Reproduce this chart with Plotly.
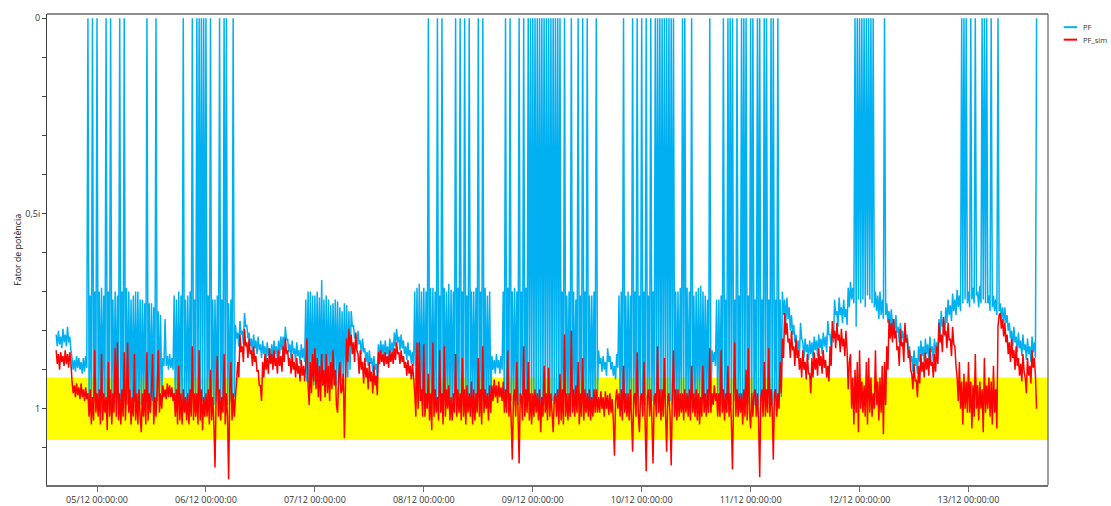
import pandas as pd
import plotly.graph_objects as go

# Quarter-hourly samples starting 04/12 15:00.
# Values are hundredths on the power-factor scale (0 at the top, 1 = 100).
START = "2023-12-04 15:00"
STEP = "15min"

# ---- measured power factor (PF), one list per day ----
pf_04 = [81, 84, 80, 83.5, 81.5, 84.5, 79.5, 83,
         81, 84, 79, 83, 81.5, 85, 87, 90,
         87.5, 90.5, 86.5, 89.5, 87, 90, 88, 91,
         87, 90.5, 86.5, 89.5, 0, 98, 71, 99,
         0, 98, 70, 99]
pf_05 = [0, 98, 70, 99, 69, 98, 71, 99,
         0, 98, 70, 99, 0, 98, 72, 99,
         70, 98, 71, 99, 0, 98, 70, 99,
         0, 98, 69, 99, 70, 98, 72, 99,
         71, 98, 70, 99, 70, 98, 72, 99,
         72, 98, 73, 99, 0, 98, 73, 99,
         73, 98, 74, 99, 0, 98, 75, 97,
         76, 96, 87, 89, 77, 89, 86.5, 90,
         86, 89.5, 87, 90, 71, 98, 72, 99,
         70, 98, 71, 99, 0, 98, 72, 99,
         71, 98, 70, 99, 0, 98, 72, 99,
         0, 98, 0, 99, 0, 98, 0, 99]
pf_06 = [0, 98, 71, 99, 0, 98, 72, 99,
         72, 98, 71, 99, 0, 98, 72, 99,
         0, 98, 0, 99, 73, 98, 72, 99,
         0, 97, 78.5, 82, 80.5, 84, 77.5, 81,
         80, 83.5, 75.5, 79, 78.5, 82, 80.5, 84,
         82, 85.5, 81, 84.5, 82.5, 86, 81.5, 85,
         83.5, 87, 82.5, 86, 84, 87.5, 83, 86.5,
         84.5, 88, 83.5, 87, 82.5, 86, 84, 87.5,
         82.5, 86, 81.5, 85, 81.5, 85, 79, 82.5,
         82, 85.5, 83.5, 87, 82.5, 86, 84.5, 88,
         83, 86.5, 85, 88.5, 83.5, 87, 84.5, 88,
         72, 93, 70, 94, 70, 93, 71, 94]
pf_07 = [71, 93, 70, 92, 71.5, 93, 67, 94,
         72, 94, 71, 93, 72, 93, 73.5, 92,
         73, 92, 72, 94, 72.5, 94, 74, 93,
         75, 93, 73, 92, 73.5, 92, 75, 90,
         75, 79, 78.5, 82, 81, 84.5, 80, 83.5,
         82.5, 86, 82, 85.5, 84.5, 88, 85.5, 89,
         85, 88.5, 87, 90.5, 86.5, 90, 88.5, 92,
         83.5, 87, 82.5, 86, 83.5, 87, 82.5, 86,
         84, 87.5, 82, 85.5, 83, 86.5, 80.5, 84,
         79.5, 83, 81.5, 85, 81, 84.5, 82.5, 86,
         84, 87.5, 83, 86.5, 85, 88.5, 85.5, 89,
         70, 97, 69, 98, 68, 98, 70, 99]
pf_08 = [69, 98, 70, 99, 0, 98, 69, 99,
         69, 98, 70, 99, 0, 98, 71, 99,
         0, 98, 69, 99, 70, 98, 68, 99,
         69.5, 98, 70, 99, 0, 98, 69, 99,
         0, 98, 70, 99, 0, 98, 71, 99,
         0, 98, 70, 99, 70, 98, 69, 99,
         0, 98, 70, 99, 0, 98, 69, 99,
         71, 98, 70, 98, 86.5, 90, 87.5, 91,
         86, 89.5, 87.5, 91, 86.5, 90, 70, 98,
         0, 98, 69, 99, 0, 98, 70, 99,
         69, 98, 70, 99, 0, 98, 70, 99,
         0, 98, 69, 99, 0, 98, 0, 99]
pf_09 = [0, 98, 0, 99, 0, 98, 0, 99,
         0, 98, 0, 99, 0, 98, 0, 99,
         0, 98, 0, 99, 0, 98, 0, 99,
         0, 98, 70, 99, 0, 98, 71, 99,
         70, 98, 0, 99, 70, 98, 72, 99,
         0, 98, 71, 99, 0, 98, 70, 99,
         0, 98, 71, 99, 71, 98, 70, 98,
         0, 97, 85, 88.5, 87, 90.5, 86.5, 90,
         88, 91.5, 84.5, 88, 86.5, 90, 88, 91.5,
         89, 92.5, 86, 89.5, 71, 98, 70, 99,
         0, 98, 71, 99, 70, 98, 71, 99,
         0, 98, 70, 99, 0, 98, 71, 99]
pf_10 = [0, 98, 70, 99, 0, 98, 71, 99,
         0, 98, 70, 99, 0, 98, 0, 99,
         0, 98, 0, 99, 0, 98, 0, 99,
         0, 98, 0, 99, 0, 98, 70, 99,
         70, 98, 69, 99, 0, 98, 0, 99,
         69, 98, 70, 99, 0, 98, 71, 99,
         70, 98, 69, 99, 68.5, 98, 70, 99,
         71, 98, 72, 99, 0, 98, 85, 88,
         85.5, 89, 72, 98, 72, 98, 71, 99,
         0, 98, 72, 99, 0, 98, 0, 99,
         0, 98, 72, 99, 0, 98, 71, 99,
         0, 98, 0, 99, 0, 98, 71, 99]
pf_11 = [0, 98, 0, 99, 72, 98, 0, 99,
         0, 98, 72, 99, 0, 98, 0, 99,
         72, 98, 0, 99, 0, 98, 72, 99,
         0, 98, 72, 97, 70, 76, 72, 78,
         71.5, 77, 74, 80, 76, 81, 78.5, 83,
         81, 85, 82.5, 86.5, 78, 82, 83, 87,
         82, 85.5, 83.5, 87.5, 82.5, 86, 83, 87,
         81.5, 85, 82.5, 86.5, 81, 84.5, 82, 86,
         80.5, 84, 81.5, 85.5, 77.5, 81, 81, 84.5,
         79.5, 83, 72, 76, 75, 79, 71.5, 76,
         74, 78, 72, 76.5, 74.5, 78.5, 69, 74,
         67.5, 72, 69, 73, 0, 79, 0, 72]
pf_12 = [0, 73, 0, 72, 0, 74, 0, 71,
         0, 72, 0, 73, 0, 74, 70, 75,
         71, 77, 70, 76, 72, 77, 0, 76,
         73, 78, 75, 79, 74.5, 79, 77, 81,
         76, 80.5, 79, 83, 78, 82, 80, 84,
         79, 83, 81, 85, 84, 88, 86.5, 90.5,
         85, 89, 87, 91, 84, 88, 82.5, 86.5,
         84, 88, 82, 86, 83.5, 87.5, 81.5, 85.5,
         84, 88, 82, 86, 83, 87, 77, 81,
         75, 79, 77.5, 81.5, 74, 78, 72, 76,
         73.5, 77.5, 70.5, 75, 72, 76, 69.5, 74,
         71, 75, 0, 73, 0, 72, 0, 73]
pf_13 = [70, 74, 0, 72, 69, 73, 0, 71,
         70, 74, 68.5, 73, 0, 72, 0, 73,
         0, 73, 71, 75, 0, 74, 71, 75,
         72, 76, 0, 75, 73, 77, 74, 78,
         74, 78, 76, 80, 78, 82, 80, 84,
         79, 83, 81.5, 85.5, 80.5, 84.5, 82.5, 86.5,
         81, 85, 83.5, 87.5, 82, 86, 84, 88,
         81.5, 85.5, 83, 87, 0]

# ---- simulated power factor (PF_sim), one list per day ----
sim_04 = [85, 88.5, 86, 90, 85.5, 88, 86.5, 89,
          85, 88.5, 86, 89.5, 85.5, 88, 93, 96,
          94, 97, 93.5, 96.5, 94.5, 97.5, 93.5, 97,
          95, 98, 94.5, 97.5, 96, 102, 95, 104,
          97, 103, 85, 101]
sim_05 = [96, 102, 95, 104, 86, 103, 96, 101,
          97, 105.5, 88, 102, 95, 104, 96, 101,
          84.5, 102, 83, 103, 96, 104, 95, 102,
          85.5, 103, 96, 83, 101, 95, 104, 97,
          102, 86, 103, 96, 104, 95, 102, 106,
          96, 102, 95, 104, 85.5, 103, 96, 101,
          95, 86, 104, 97, 102, 95, 85, 101,
          96, 100, 94, 97, 95, 97.5, 93.5, 97,
          94, 97, 94.5, 98, 96, 102, 95, 104,
          89, 103, 96, 104, 95, 101, 97, 103,
          96, 104, 95, 102, 84, 103, 96, 102,
          96, 104, 85, 103, 95, 105.5, 97, 102]
sim_06 = [96, 102, 95, 104, 90, 103, 97, 104,
          115, 96, 86.5, 102, 95, 103, 97, 101,
          86, 104, 96, 102, 118, 95, 88, 103,
          96, 102, 97, 93, 88, 92, 81, 85.5,
          84, 88, 79.5, 84, 83, 87, 82, 86,
          85, 89, 84, 88, 86.5, 90.5, 90, 94,
          94, 98, 88, 92, 86, 90, 87, 91,
          84.5, 88.5, 86, 90, 85, 89, 87, 91,
          85, 89, 86.5, 90.5, 84, 88, 82, 86,
          85, 89, 87, 91, 86, 90, 88, 92,
          87, 91, 89, 93, 87.5, 91.5, 89, 93,
          88, 82, 94, 99, 88, 96, 86, 93]
sim_07 = [84.5, 95, 87, 97, 89, 98, 86, 94,
          90, 97, 86, 96, 89, 98, 88, 95,
          85, 94, 90, 99, 101, 92, 88, 96,
          95, 91, 107.5, 93, 82, 88, 79.5, 84,
          81, 86, 83, 88, 80.5, 85, 86, 91,
          85, 90, 88, 93.5, 87, 92, 89.5, 95,
          88, 93, 90.5, 96, 89, 94, 91.5, 96.5,
          85.5, 88.5, 85, 88, 86, 89, 85.5, 88.5,
          86.5, 89.5, 85, 88, 85.5, 88.5, 84.5, 87.5,
          83, 86, 85.5, 88.5, 85, 88, 86.5, 89.5,
          88, 91.5, 87.5, 91, 89, 92.5, 88.5, 92,
          96, 102, 83, 100, 83, 98, 95, 102]
sim_08 = [83.5, 102, 96, 100, 91, 103, 96, 105.5,
          83, 102, 95, 101, 97, 103, 85, 101,
          96, 104, 84, 102, 95, 100, 94, 103,
          97, 103, 96, 101, 86, 102, 95, 101,
          96, 103, 87, 102, 95, 104, 94, 101,
          96, 102, 93, 104, 95, 103, 96, 101,
          87, 102, 95, 104, 84, 101, 95, 100,
          96, 103, 94, 101, 94, 98, 92.5, 97,
          94, 98.5, 93, 97, 94.5, 98, 93, 101,
          95, 101, 85, 102, 96, 103, 113, 97,
          95, 102, 88, 101, 114, 96, 97, 103,
          84, 102, 95, 101, 88, 103, 96, 104]
sim_09 = [96, 102, 95, 101, 96, 103, 95, 106,
          97, 102, 89, 101, 96, 103, 89.5, 102,
          96, 101, 106, 97, 96, 102, 95, 104,
          91, 103, 95, 104, 81, 102, 96, 103,
          96, 102, 80, 101, 95, 102, 94, 101,
          88, 104, 96, 102, 87, 103, 95, 101,
          96, 102, 95, 103, 97, 102, 95, 101,
          95, 101, 97, 101, 95.5, 100, 97, 102,
          95.5, 100, 96.5, 101.5, 96, 101, 97.5, 103,
          112, 98, 95, 100, 96, 102, 95, 103,
          89, 101, 96, 102, 96, 103, 95, 102,
          111, 97, 96, 102, 85.5, 101, 106, 97]
sim_10 = [96, 102, 88, 103, 116, 97, 95, 102,
          95, 103, 114, 97, 96, 102, 84, 101,
          95, 103, 95, 102, 87, 101, 111, 97,
          96, 102, 114.5, 97, 85, 102, 95, 103,
          95, 102, 96, 101, 96, 103, 95, 101,
          96, 102, 95, 103, 89, 101, 96, 102,
          95, 103, 96, 104, 97, 102, 89, 101,
          96, 102, 95, 101, 84.5, 101, 96, 99,
          94, 98, 96, 102, 96, 102, 85, 101,
          95, 103, 96, 101, 89, 102, 96, 103,
          115.5, 97, 83, 102, 95, 102, 96, 101,
          96, 104, 95, 102, 90, 103, 84.5, 101]
sim_11 = [105, 96, 102, 96, 95, 102, 96, 103,
          117.5, 97, 95, 102, 88, 102, 95, 101,
          84.5, 102, 95, 100, 113, 96, 95, 102,
          96, 100, 88, 96, 82, 87, 75.5, 81,
          78, 83, 82, 87, 80, 85, 84, 89,
          82, 87, 85, 90, 87, 92, 85, 90,
          88, 92.5, 86, 91, 91, 96, 87, 92,
          85.5, 90, 87, 91.5, 84.5, 89, 86.5, 91,
          85, 89.5, 87.5, 92, 89, 93, 84, 89,
          77.5, 82, 80, 84.5, 78, 82.5, 81, 85.5,
          79.5, 84, 82, 86.5, 80, 85, 95, 88,
          86, 100, 92, 104, 90, 101, 88, 106]
sim_12 = [85, 100, 93, 101, 94, 102, 88, 104,
          87, 101, 92, 102, 96, 100, 85, 99,
          93, 103, 92, 101, 89, 106.5, 88, 99,
          84, 90, 77, 82, 78, 83, 77, 82,
          80, 85, 84, 89, 79.5, 84, 83, 88,
          78, 83, 82, 87, 85, 90, 91, 95,
          88.5, 93, 92.5, 97, 89, 93.5, 86, 90.5,
          88, 92, 85.5, 90, 87, 91.5, 84.5, 89,
          88, 92, 86, 90.5, 84, 88.5, 78, 83,
          81, 85.5, 76.5, 81, 80, 84.5, 78, 82.5,
          82, 86.5, 79, 83.5, 84, 89, 92, 98,
          88, 100, 93, 104, 91, 100, 93, 101]
sim_13 = [88, 101, 93, 105, 94, 102, 86, 100,
          94, 103, 93, 100, 95, 106, 87, 101,
          94, 100, 92, 102, 93, 104, 89, 101,
          95, 105, 79, 76, 75.5, 79.5, 77, 81.5,
          78, 83, 81, 86, 83, 88, 82, 87,
          85, 90, 84, 89, 87, 91.5, 88.5, 93,
          86, 90.5, 92, 96, 87, 91.5, 89, 93.5,
          85, 89.5, 87, 91.5, 100]

# Axis labelling and reference band
TICK_VALS = [0, 50, 100]
TICK_TEXT = ["0", "0,5i", "1"]
MINOR_VALS = [10, 20, 30, 40, 60, 70, 80, 90, 110]
BAND_LOW, BAND_HIGH = 92, 108
X_RANGE = ["2023-12-04 12:59", "2023-12-13 17:31"]
Y_RANGE = [119.5, -1.07]

BLUE = "#00B0F0"
RED = "#FF0000"
FONT = "Open Sans"

pf = pf_04 + pf_05 + pf_06 + pf_07 + pf_08 + pf_09 + pf_10 + pf_11 + pf_12 + pf_13
pf_sim = (sim_04 + sim_05 + sim_06 + sim_07 + sim_08 + sim_09 + sim_10 + sim_11
          + sim_12 + sim_13)
t_pf = pd.date_range(START, periods=len(pf), freq=STEP)
t_sim = pd.date_range(START, periods=len(pf_sim), freq=STEP)

fig = go.Figure()
fig.add_trace(go.Scatter(x=t_pf, y=pf, mode="lines", name="PF",
                         line=dict(color=BLUE, width=1.5, simplify=False)))
fig.add_trace(go.Scatter(x=t_sim, y=pf_sim, mode="lines", name="PF_sim",
                         line=dict(color=RED, width=1.5, simplify=False)))

# acceptable power-factor band
fig.add_shape(type="rect", xref="paper", x0=0, x1=1, yref="y", y0=BAND_LOW, y1=BAND_HIGH,
              fillcolor="#FFFF00", line=dict(width=0), layer="below")

# frame: grey top edge, dark right edge
fig.add_shape(type="line", xref="paper", yref="paper", x0=0, x1=1, y0=1, y1=1,
              line=dict(color="#8C8C8C", width=2))
fig.add_shape(type="line", xref="paper", yref="paper", x0=1, x1=1, y0=0, y1=1,
              line=dict(color="#404040", width=1))

# legend
legend_items = [("PF", BLUE, 0.972), ("PF_sim", RED, 0.9455)]
for label, color, ypos in legend_items:
    fig.add_shape(type="line", xref="paper", yref="paper", x0=1.0157, x1=1.029,
                  y0=ypos, y1=ypos, line=dict(color=color, width=2))
    fig.add_annotation(xref="paper", yref="paper", x=1.0327, y=ypos, text=label,
                       showarrow=False, xanchor="left", yanchor="middle",
                       font=dict(family=FONT, size=7.5, color="#333333"))

# y-axis title
fig.add_annotation(xref="paper", yref="paper", x=-0.0297, y=0.5, text="Fator de potência",
                   textangle=-90, showarrow=False, xanchor="center", yanchor="middle",
                   font=dict(family=FONT, size=8.8, color="#222222"))

fig.update_layout(
    width=1111, height=506,
    margin=dict(l=47, r=63, t=14, b=21),
    paper_bgcolor="white", plot_bgcolor="white",
    showlegend=False,
    font=dict(family=FONT, size=9, color="#333333"),
    xaxis=dict(
        range=X_RANGE, type="date", automargin=False,
        tickmode="linear", tick0="2023-12-05", dtick=86400000,
        tickformat="%d/%m %H:%M:%S",
        showgrid=False, zeroline=False,
        showline=True, linecolor="#6E6E6E", linewidth=1.5,
        ticks="outside", ticklen=5, tickcolor="#6E6E6E",
        tickfont=dict(family=FONT, size=9, color="#333333"),
    ),
    yaxis=dict(
        range=Y_RANGE, automargin=False,
        tickmode="array", tickvals=TICK_VALS, ticktext=TICK_TEXT,
        showgrid=False, zeroline=False,
        showline=True, linecolor="#404040", linewidth=1,
        ticks="outside", ticklen=4, tickcolor="#404040",
        tickfont=dict(family=FONT, size=9, color="#333333"),
        minor=dict(tickmode="array", tickvals=MINOR_VALS, ticks="outside",
                   ticklen=4, tickcolor="#404040", showgrid=False),
    ),
)

fig.write_html("out.html")
